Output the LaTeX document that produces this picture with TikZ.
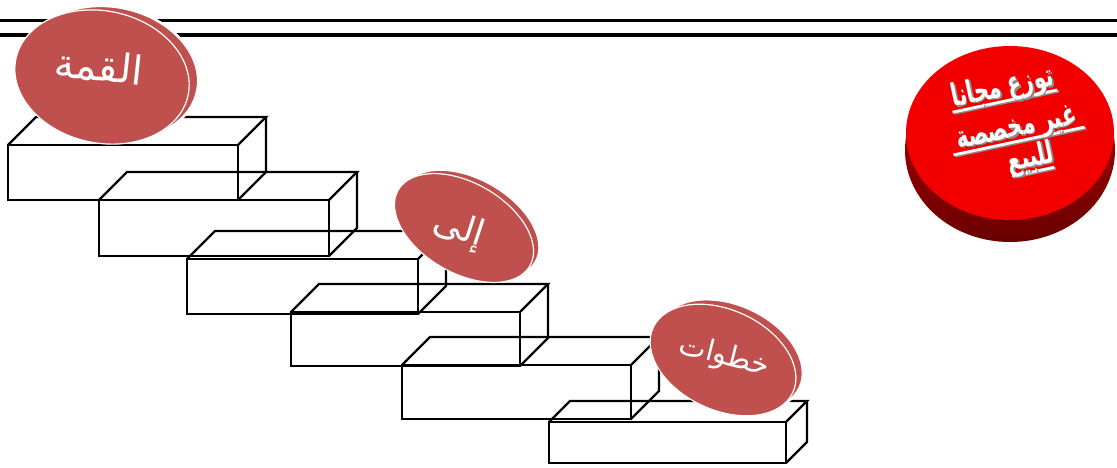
\documentclass[tikz,border=0pt]{standalone}
\usepackage{fontspec}
\newfontfamily\arabicfont[Script=Arabic]{DejaVu Sans}
\newfontfamily\arabiccond[Script=Arabic, FakeStretch=0.66]{DejaVu Sans}
\TeXXeTstate=1
\usetikzlibrary{calc}
\definecolor{discred}{RGB}{192,80,77}
\definecolor{badgered}{RGB}{242,0,0}
\definecolor{rimdark}{RGB}{105,0,0}
\definecolor{rimmid}{RGB}{190,0,0}
\definecolor{shadowgray}{RGB}{140,140,140}
\tikzset{
  stairline/.style={draw=black, line width=2.4pt, line join=miter},
  toprule/.style={draw=black},
  discrim/.style={fill=discred, draw=white, line width=2.5pt},
  discface/.style={fill=discred, draw=white, line width=1.2pt},
  disctext/.style={text=white, inner sep=0pt},
  badgetext/.style={inner sep=0pt, anchor=base, transform shape, font=\arabiccond\bfseries\fontsize{31}{34}\selectfont},
  underbar/.style={line width=2.8pt, line cap=butt}
}
\newcommand\stairbox[5]{%
  \draw[stairline] (#1,#2) rectangle ++(#3,#4);
  \draw[stairline] (#1,#2) -- ++(#5,-#5) -- ++(#3,0) -- ++(-#5,#5);
  \draw[stairline] ($(#1,#2)+(#3,0)+(#5,-#5)$) -- ++(0,#4) -- ++(-#5,#5);
}
\begin{document}
\begin{tikzpicture}[x=1pt,y=-1pt]
\useasboundingbox (0,0) rectangle (1117,467);
% header rules
\coordinate (r1a) at (0,20.5); \coordinate (r1b) at (1117,20.5);
\coordinate (r2a) at (0,35); \coordinate (r2b) at (1117,35);
\draw[toprule, line width=3pt] (r1a) -- (r1b);
\draw[toprule, line width=3.6pt] (r2a) -- (r2b);
% stairs
\stairbox{8}{145}{230}{55}{28}
\stairbox{99}{200}{230}{56}{28}
\stairbox{187}{259}{231}{55}{28}
\stairbox{291}{312}{229}{54}{28}
\stairbox{402}{365}{229}{54}{28}
\stairbox{549}{422}{237}{41}{21}
% disc 1
\fill[discrim, rotate around={-12:(111,73)}] (111,73) ellipse [x radius=88, y radius=66];
\draw[discface, rotate around={-12:(102,77)}] (102,77) ellipse [x radius=88, y radius=66];
\node[disctext, rotate=-6, font=\arabicfont\fontsize{40}{44}\selectfont] (t1) at (99,66) {\beginR القمة\endR};
% disc 2
\fill[discrim, rotate around={-30:(470,224)}] (470,224) ellipse [x radius=76, y radius=45];
\draw[discface, rotate around={-30:(464,228)}] (464,228) ellipse [x radius=76, y radius=45];
\node[disctext, rotate=-18, font=\arabicfont\fontsize{36}{40}\selectfont] (t2) at (459,230) {\beginR إلى\endR};
% disc 3
\fill[discrim, rotate around={-25:(730,355)}] (730,355) ellipse [x radius=77, y radius=50];
\draw[discface, rotate around={-25:(723,360)}] (723,360) ellipse [x radius=77, y radius=50];
\node[disctext, rotate=-14, font=\arabicfont\fontsize{29}{33}\selectfont] (t3) at (724,357) {\beginR خطوات\endR};
% badge
\shade[top color=rimmid, bottom color=rimdark] (1010,150) ellipse [x radius=105, y radius=92];
\fill[badgered] (1010,133) ellipse [x radius=104, y radius=87];
\begin{scope}[shift={(1019,141)}, rotate=12]
  \draw[underbar, shadowgray] (-57.5,-40.5) -- (49.5,-40.5);
  \draw[underbar, white] (-59,-42) -- (48,-42);
  \draw[underbar, shadowgray] (-65.5,1.5) -- (68.5,1.5);
  \draw[underbar, white] (-67,0) -- (67,0);
  \draw[underbar, shadowgray] (-12.5,34.5) -- (30.5,34.5);
  \draw[underbar, white] (-14,33) -- (29,33);
  \node[badgetext, text=shadowgray] at (-3.5,-45.5) {\beginR توزع مجانا\endR};
  \node[badgetext, text=white] (b1) at (-5,-47) {\beginR توزع مجانا\endR};
  \node[badgetext, text=shadowgray] at (1.5,-3.5) {\beginR غير مخصصة\endR};
  \node[badgetext, text=white] (b2) at (0,-5) {\beginR غير مخصصة\endR};
  \node[badgetext, text=shadowgray] at (9.5,29.5) {\beginR للبيع\endR};
  \node[badgetext, text=white] (b3) at (8,28) {\beginR للبيع\endR};
\end{scope}
\end{tikzpicture}
\end{document}
